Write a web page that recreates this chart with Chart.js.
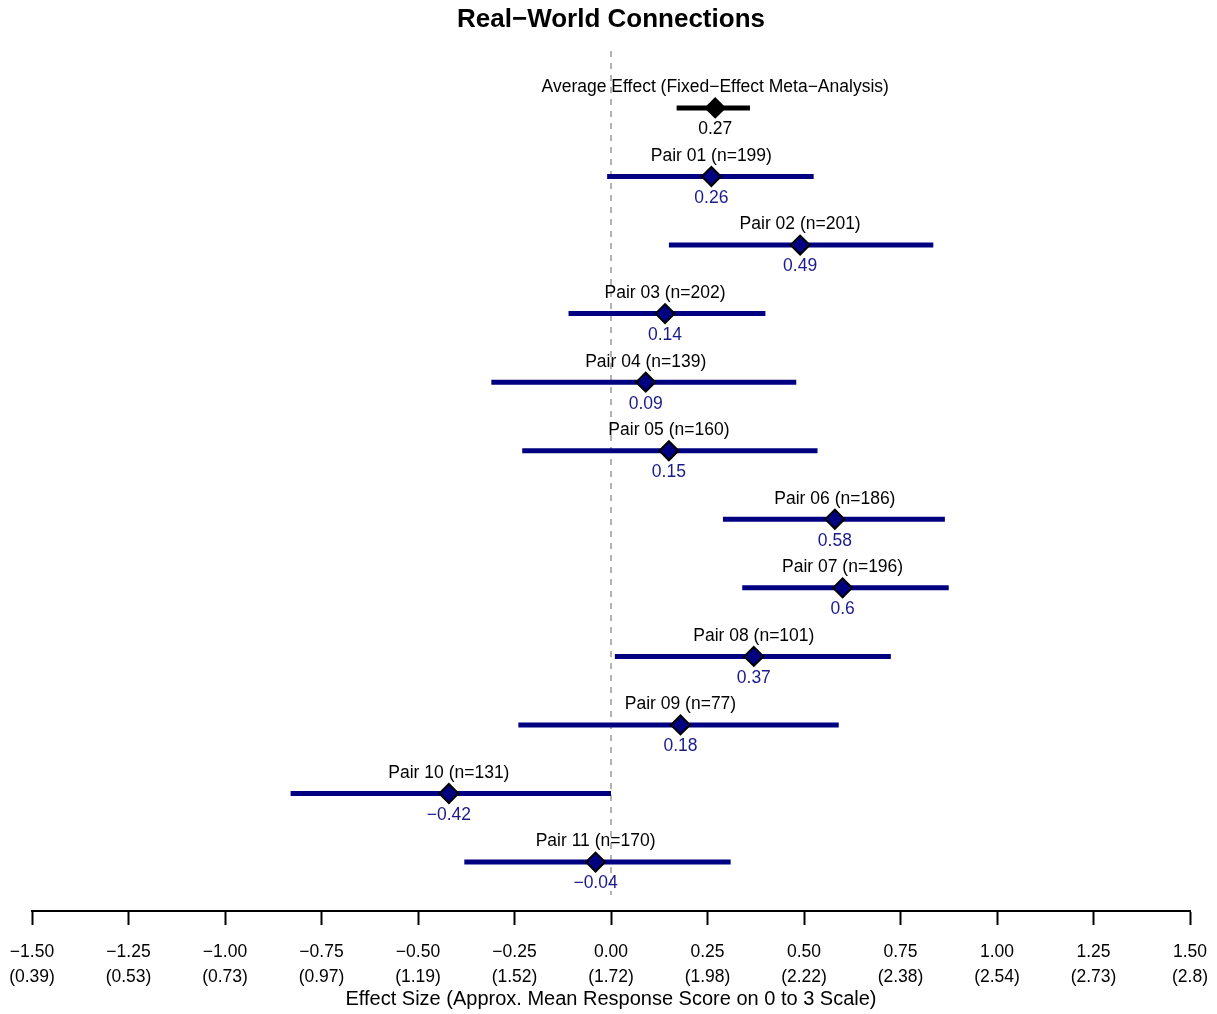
<!DOCTYPE html>
<html>
<head>
<meta charset="utf-8">
<title>Real-World Connections</title>
<script src="https://cdn.jsdelivr.net/npm/chart.js@4.4.1/dist/chart.umd.min.js"></script>
<style>
  html, body { margin: 0; padding: 0; background: #fff; }
  #wrap { width: 1217px; height: 1014px; }
</style>
</head>
<body>
<div id="wrap"><canvas id="grafica"></canvas></div>
<script>
// datos
const etiquetas = [
  'Average Effect (Fixed\u2212Effect Meta\u2212Analysis)',
  'Pair 01 (n=199)', 'Pair 02 (n=201)', 'Pair 03 (n=202)', 'Pair 04 (n=139)',
  'Pair 05 (n=160)', 'Pair 06 (n=186)', 'Pair 07 (n=196)', 'Pair 08 (n=101)',
  'Pair 09 (n=77)', 'Pair 10 (n=131)', 'Pair 11 (n=170)'
];
const efectos = [0.27, 0.26, 0.49, 0.14, 0.09, 0.15, 0.58, 0.60, 0.37, 0.18, -0.42, -0.04];
const limInf = [0.17, -0.01, 0.15, -0.11, -0.31, -0.23, 0.29, 0.34, 0.01, -0.24, -0.83, -0.38];
const limSup = [0.36, 0.525, 0.835, 0.40, 0.48, 0.535, 0.865, 0.875, 0.725, 0.59, 0.00, 0.31];
const ticksX = [-1.5, -1.25, -1, -0.75, -0.5, -0.25, 0, 0.25, 0.5, 0.75, 1, 1.25, 1.5];
const escala03 = ['0.39', '0.53', '0.73', '0.97', '1.19', '1.52', '1.72', '1.98', '2.22', '2.38', '2.54', '2.73', '2.8'];

const fuente = "'Liberation Sans', Arial, Helvetica, sans-serif";
const AZUL = '#000080';
const Y_MIN = -0.93, Y_MAX = 11.714;

function menos(txt) {
  return txt.replace('-', '\u2212');
}

const datasets = [];

// linea de referencia en cero
datasets.push({
  type: 'line',
  data: [{x: 0, y: Y_MIN + 0.1}, {x: 0, y: Y_MAX - 0.234}],
  borderColor: '#9a9a9a',
  borderWidth: 1.5,
  borderDash: [6, 6],
  pointRadius: 0,
  order: 3
});

// intervalos de confianza
efectos.forEach((e, i) => {
  datasets.push({
    type: 'line',
    data: [{x: limInf[i], y: i}, {x: limSup[i], y: i}],
    borderColor: i === 0 ? '#000' : AZUL,
    borderWidth: 5,
    borderCapStyle: 'butt',
    pointRadius: 0,
    order: 2
  });
});

// estimaciones puntuales
datasets.push({
  type: 'scatter',
  data: efectos.map((e, i) => ({x: e, y: i})),
  pointStyle: 'rectRot',
  pointRadius: 9.5,
  pointHoverRadius: 9.5,
  pointBackgroundColor: efectos.map((e, i) => i === 0 ? '#000' : AZUL),
  pointBorderColor: '#000',
  pointBorderWidth: 2,
  order: 1
});

const etiquetasPlugin = {
  id: 'etiquetasFilas',
  afterDatasetsDraw(chart) {
    const {ctx, scales} = chart;
    ctx.save();
    ctx.font = '17.5px ' + fuente;
    ctx.textAlign = 'center';
    ctx.textBaseline = 'middle';
    efectos.forEach((e, i) => {
      const px = scales.x.getPixelForValue(e);
      const py = scales.y.getPixelForValue(i);
      ctx.fillStyle = '#000';
      ctx.fillText(etiquetas[i], px, py - 20.5);
      ctx.fillStyle = i === 0 ? '#000' : '#1a1a8c';
      ctx.fillText(menos(String(e)), px, py + 21.5);
    });
    ctx.restore();
  }
};

new Chart(document.getElementById('grafica'), {
  type: 'scatter',
  data: { datasets },
  plugins: [etiquetasPlugin],
  options: {
    responsive: true,
    maintainAspectRatio: false,
    animation: false,
    layout: { padding: { left: 32, right: 27, top: 0, bottom: 0 } },
    plugins: {
      legend: { display: false },
      tooltip: { enabled: false },
      title: {
        display: true,
        text: 'Real\u2212World Connections',
        color: '#000',
        font: { family: fuente, size: 26, weight: 'bold' },
        padding: { top: 4, bottom: 9 }
      }
    },
    scales: {
      x: {
        type: 'linear',
        min: -1.5,
        max: 1.5,
        afterBuildTicks: scale => { scale.ticks = ticksX.map(v => ({value: v})); },
        afterFit: scale => {
          scale.height = 103;
          scale.paddingLeft = 0;
          scale.paddingRight = 0;
        },
        ticks: {
          color: '#000',
          font: { family: fuente, size: 17.5, lineHeight: 1.43 },
          padding: 15,
          maxRotation: 0,
          autoSkip: false,
          callback: (v, idx) => [menos(v.toFixed(2)), '(' + escala03[idx] + ')']
        },
        grid: {
          display: true,
          drawOnChartArea: false,
          drawTicks: true,
          tickLength: 14,
          tickWidth: 2,
          tickColor: '#000'
        },
        border: { display: true, color: '#000', width: 2 },
        title: {
          display: true,
          text: 'Effect Size (Approx. Mean Response Score on 0 to 3 Scale)',
          color: '#000',
          font: { family: fuente, size: 20 },
          padding: { top: 0, bottom: 3 }
        }
      },
      y: {
        type: 'linear',
        reverse: true,
        min: Y_MIN,
        max: Y_MAX,
        display: false
      }
    }
  }
});
</script>
</body>
</html>
